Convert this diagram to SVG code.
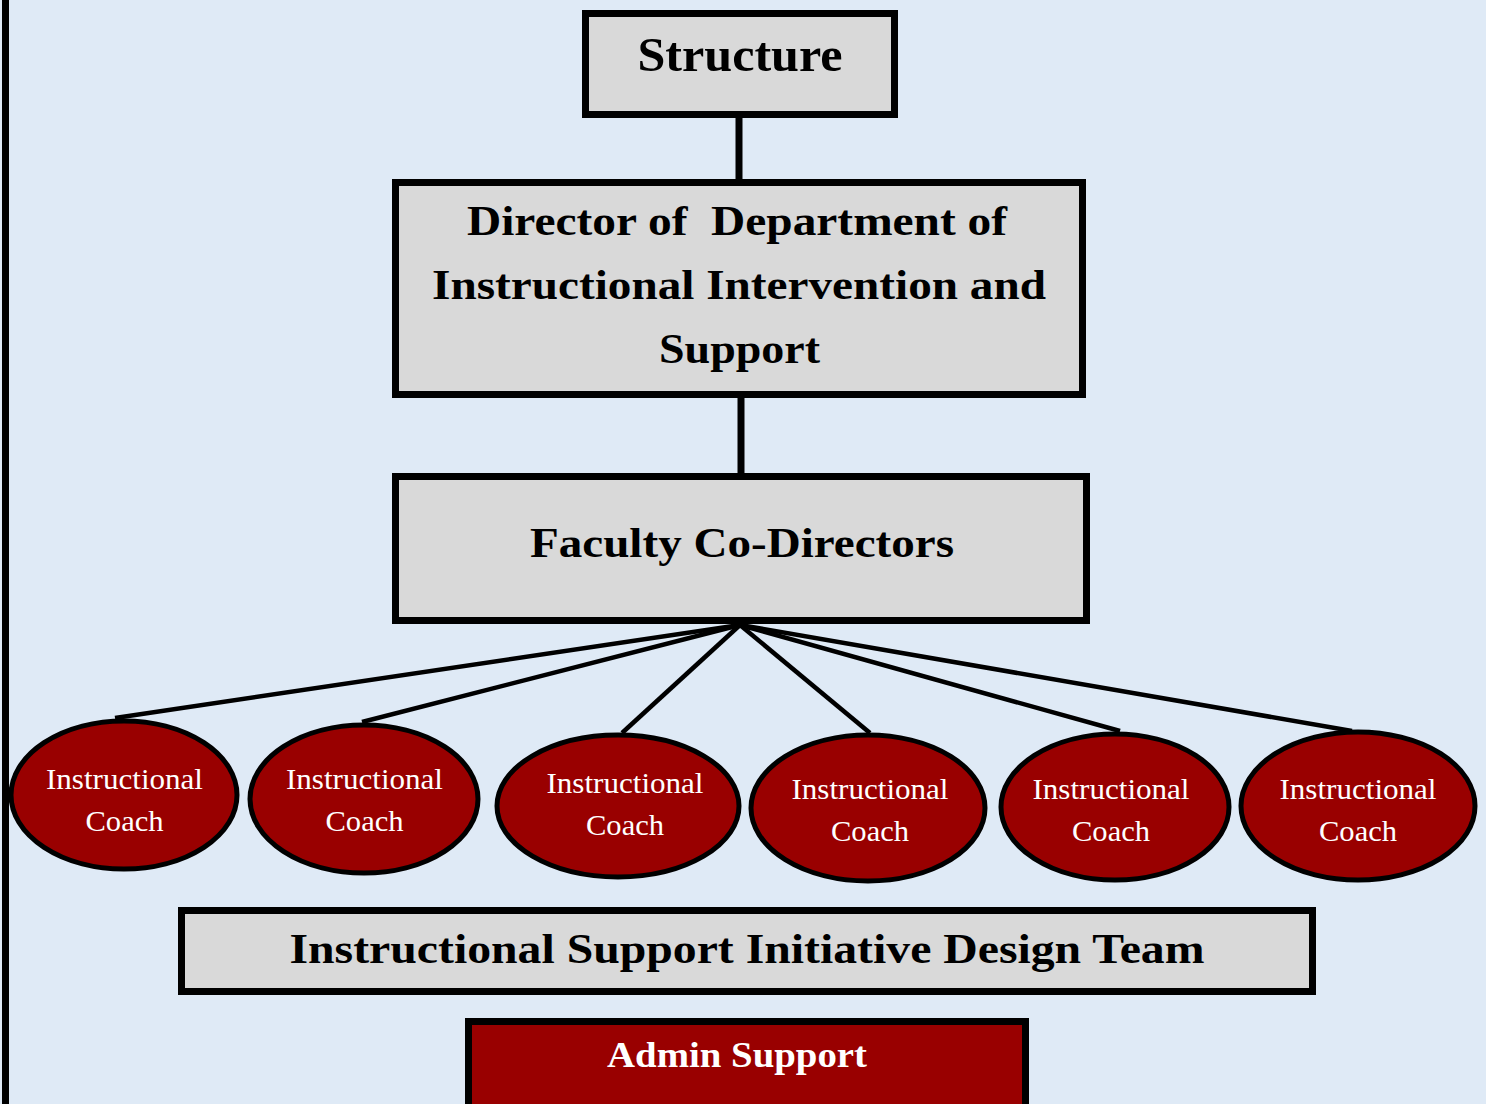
<svg xmlns="http://www.w3.org/2000/svg" width="1486" height="1104" viewBox="0 0 1486 1104">
<style>
.box{fill:#d9d9d9;stroke:#000;stroke-width:7}
.red{fill:#990000;stroke:#000;stroke-width:5}
text{font-family:'Liberation Serif','Times New Roman',Times,serif;text-anchor:middle}
.bt{font-weight:bold;fill:#000}
.wt{fill:#fff;font-size:29px}
.conn line{stroke:#000}
</style>
<rect x="0" y="0" width="1486" height="1104" fill="#dfeaf6"/>
<rect x="2" y="0" width="7" height="1104" fill="#000"/>
<g class="conn">
<line x1="739" y1="116" x2="739" y2="182" stroke-width="7"/>
<line x1="741" y1="396" x2="741" y2="476" stroke-width="7"/>
<g stroke-width="4.5">
<line x1="740" y1="625" x2="115" y2="718"/>
<line x1="740" y1="625" x2="362" y2="722"/>
<line x1="740" y1="625" x2="622" y2="733"/>
<line x1="740" y1="625" x2="870" y2="733"/>
<line x1="740" y1="625" x2="1120" y2="731"/>
<line x1="740" y1="625" x2="1352" y2="731"/>
</g>
</g>
<g id="structure">
<rect class="box" x="585.5" y="13.5" width="309" height="101"/>
<text class="bt" x="740" y="71" font-size="48" textLength="205" lengthAdjust="spacingAndGlyphs">Structure</text>
</g>
<g id="director">
<rect class="box" x="395.5" y="182.5" width="687" height="212"/>
<text class="bt" x="737" y="235" font-size="42" textLength="540" lengthAdjust="spacingAndGlyphs" xml:space="preserve">Director of  Department of</text>
<text class="bt" x="739" y="299" font-size="42" textLength="614" lengthAdjust="spacingAndGlyphs">Instructional Intervention and</text>
<text class="bt" x="739.5" y="363" font-size="42" textLength="161" lengthAdjust="spacingAndGlyphs">Support</text>
</g>
<g id="faculty">
<rect class="box" x="395.5" y="476.5" width="691" height="144"/>
<text class="bt" x="742" y="557" font-size="42" textLength="424" lengthAdjust="spacingAndGlyphs">Faculty Co-Directors</text>
</g>
<g id="coach1">
<ellipse class="red" cx="124" cy="795" rx="113" ry="74"/>
<text class="wt" x="124.5" y="789" textLength="157" lengthAdjust="spacingAndGlyphs">Instructional</text>
<text class="wt" x="124.5" y="831" textLength="78" lengthAdjust="spacingAndGlyphs">Coach</text>
</g>
<g id="coach2">
<ellipse class="red" cx="364" cy="799" rx="114" ry="74"/>
<text class="wt" x="364.5" y="789" textLength="157" lengthAdjust="spacingAndGlyphs">Instructional</text>
<text class="wt" x="364.5" y="831" textLength="78" lengthAdjust="spacingAndGlyphs">Coach</text>
</g>
<g id="coach3">
<ellipse class="red" cx="618" cy="806" rx="121" ry="71"/>
<text class="wt" x="625" y="793" textLength="157" lengthAdjust="spacingAndGlyphs">Instructional</text>
<text class="wt" x="625" y="835" textLength="78" lengthAdjust="spacingAndGlyphs">Coach</text>
</g>
<g id="coach4">
<ellipse class="red" cx="868" cy="808" rx="117" ry="73"/>
<text class="wt" x="870" y="799" textLength="157" lengthAdjust="spacingAndGlyphs">Instructional</text>
<text class="wt" x="870" y="841" textLength="78" lengthAdjust="spacingAndGlyphs">Coach</text>
</g>
<g id="coach5">
<ellipse class="red" cx="1115" cy="807" rx="114" ry="73"/>
<text class="wt" x="1111" y="799" textLength="157" lengthAdjust="spacingAndGlyphs">Instructional</text>
<text class="wt" x="1111" y="841" textLength="78" lengthAdjust="spacingAndGlyphs">Coach</text>
</g>
<g id="coach6">
<ellipse class="red" cx="1358" cy="806" rx="117" ry="74"/>
<text class="wt" x="1358" y="799" textLength="157" lengthAdjust="spacingAndGlyphs">Instructional</text>
<text class="wt" x="1358" y="841" textLength="78" lengthAdjust="spacingAndGlyphs">Coach</text>
</g>
<g id="design-team">
<rect class="box" x="181.5" y="910.5" width="1131" height="81"/>
<text class="bt" x="747" y="963" font-size="42" textLength="915" lengthAdjust="spacingAndGlyphs">Instructional Support Initiative Design Team</text>
</g>
<g id="admin">
<rect x="468.5" y="1021.5" width="557" height="90" fill="#990000" stroke="#000" stroke-width="7"/>
<text x="737" y="1067" font-weight="bold" font-size="36" fill="#fff" textLength="260" lengthAdjust="spacingAndGlyphs">Admin Support</text>
</g>
</svg>
